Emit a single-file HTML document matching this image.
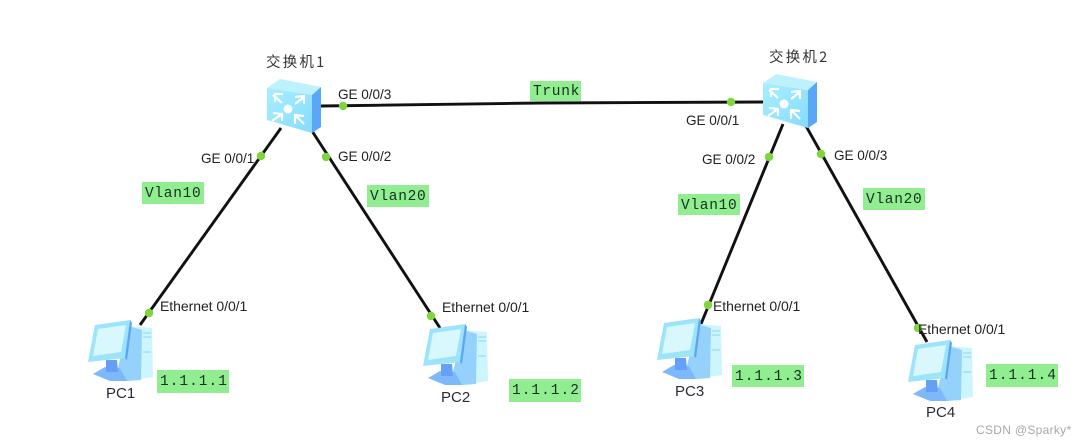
<!DOCTYPE html>
<html lang="zh">
<head>
<meta charset="utf-8">
<style>
html,body{margin:0;padding:0;background:#fff;width:1084px;height:447px;overflow:hidden}
svg{display:block;filter:blur(.35px)}
.p{font-family:"Liberation Sans","Noto Sans CJK SC",sans-serif;font-size:13.6px;fill:#222;letter-spacing:-.05px}
.e{font-size:14px}
.m{font-family:"Liberation Mono",monospace;font-size:14.5px;fill:#16301f;letter-spacing:.7px}
.i{letter-spacing:1px;font-size:14.5px}
.n{font-family:"Liberation Sans",sans-serif;font-size:15px;fill:#2a2a3a}
.t{font-family:"Noto Sans CJK SC","Liberation Sans",sans-serif;font-size:14.5px;fill:#333;letter-spacing:2.2px}
</style>
</head>
<body>
<svg width="1084" height="447" viewBox="0 0 1084 447" xmlns="http://www.w3.org/2000/svg">
<defs>
<linearGradient id="f" x1="0" y1="0" x2="1" y2="1"><stop offset="0" stop-color="#a8eeff"/><stop offset="1" stop-color="#86dcfc"/></linearGradient>
<g id="sw">
<polygon points="267,88 280,79 321,87 312,95" fill="#bdf2fd"/>
<polygon points="267,88 312,95 312,133 267,120" fill="url(#f)"/>
<polygon points="312,95 321,87 321,127 312,133" fill="#5aa6f7"/>
<circle cx="288" cy="109" r="4.5" fill="#fff"/>
<g stroke="#fff" stroke-width="2.2" fill="none">
<path d="M273,95 L282,103 M275,102 V94 H283"/>
<path d="M304,97 L295,104 M295,97 L304,96 V104"/>
<path d="M272,121 L282,114 M273,113 L282,114 V121"/>
<path d="M304,124 L295,115 M304,116 L295,115 V124"/>
</g>
</g>
<g id="pc">
<polygon points="128,326 152,328 153,377 127,381 118,368" fill="#cdf5fe"/>
<polygon points="128,326 142,330 141,380 127,381 118,368" fill="#94d2fb"/>
<polygon points="93,374 105,367 120,368 127,381 110,381" fill="#7db9fa"/>
<polygon points="106,360 117,360 118,372 106,372" fill="#659ff7"/>
<polygon points="95,325 130,320 125,358 88,362" fill="#9be4fc"/>
<polygon points="98,329 126,325 121,352 93,356" fill="#d8f8fe"/>
<polygon points="130,320 132,323 127,360 125,358" fill="#5ea4f2"/>
<g stroke="#8fd3f3" stroke-width="1"><path d="M143,333H151M143,337H151M143,352H151"/></g>
</g>
</defs>
<rect width="1084" height="447" fill="#fff"/>

<g stroke="#111" stroke-width="2.9" fill="none">
<path d="M321,106 L540,103 L763,102"/>
<path d="M281,128 L140,325"/>
<path d="M312,131 L440,328"/>
<path d="M783,124 L701,324"/>
<path d="M806,126 L927,342"/>
</g>

<use href="#sw"/>
<use href="#sw" transform="translate(496,-5)"/>
<use href="#pc"/>
<use href="#pc" transform="translate(335,4)"/>
<use href="#pc" transform="translate(569,-2)"/>
<use href="#pc" transform="translate(820,20)"/>

<g fill="#7ed63a">
<circle cx="343" cy="106" r="4.2"/>
<circle cx="731" cy="102" r="4.2"/>
<circle cx="261" cy="156" r="4.2"/>
<circle cx="326" cy="157" r="4.2"/>
<circle cx="769" cy="157" r="4.2"/>
<circle cx="821" cy="154" r="4.2"/>
<circle cx="149" cy="313" r="4.2"/>
<circle cx="431" cy="316" r="4.2"/>
<circle cx="708" cy="305" r="4.2"/>
<circle cx="918" cy="328" r="4.2"/>
</g>

<g fill="#90ee90">
<rect x="530" y="81" width="51" height="20"/>
<rect x="142" y="182" width="62" height="22"/>
<rect x="367" y="185" width="62" height="22"/>
<rect x="678" y="194" width="62" height="21"/>
<rect x="863" y="188" width="62" height="22"/>
<rect x="157" y="370" width="72" height="23"/>
<rect x="509" y="379" width="72" height="23"/>
<rect x="732" y="365" width="72" height="22"/>
<rect x="986" y="364" width="72" height="23"/>
</g>

<text class="m" x="533" y="95">Trunk</text>
<text class="m" x="145" y="197">Vlan10</text>
<text class="m" x="370" y="200">Vlan20</text>
<text class="m" x="681" y="209">Vlan10</text>
<text class="m" x="866" y="203">Vlan20</text>
<text class="m i" x="160" y="385">1.1.1.1</text>
<text class="m i" x="512" y="394">1.1.1.2</text>
<text class="m i" x="735" y="380">1.1.1.3</text>
<text class="m i" x="989" y="379">1.1.1.4</text>

<text class="t" x="266" y="67">交换机1</text>
<text class="t" x="769" y="62">交换机2</text>

<text class="p" x="338" y="99">GE 0/0/3</text>
<text class="p" x="686" y="125">GE 0/0/1</text>
<text class="p" x="201" y="163">GE 0/0/1</text>
<text class="p" x="338" y="161">GE 0/0/2</text>
<text class="p" x="702" y="164">GE 0/0/2</text>
<text class="p" x="834" y="160">GE 0/0/3</text>
<text class="p e" x="160" y="311">Ethernet 0/0/1</text>
<text class="p e" x="442" y="312">Ethernet 0/0/1</text>
<text class="p e" x="713" y="311">Ethernet 0/0/1</text>
<text class="p e" x="918" y="334">Ethernet 0/0/1</text>

<text class="n" x="106" y="398">PC1</text>
<text class="n" x="441" y="402">PC2</text>
<text class="n" x="675" y="396">PC3</text>
<text class="n" x="926" y="417">PC4</text>

<text x="976" y="434" style="font-family:'Liberation Sans',sans-serif;font-size:12px;fill:#a8a8a8;letter-spacing:.3px">CSDN @Sparky*</text>
</svg>
</body>
</html>
